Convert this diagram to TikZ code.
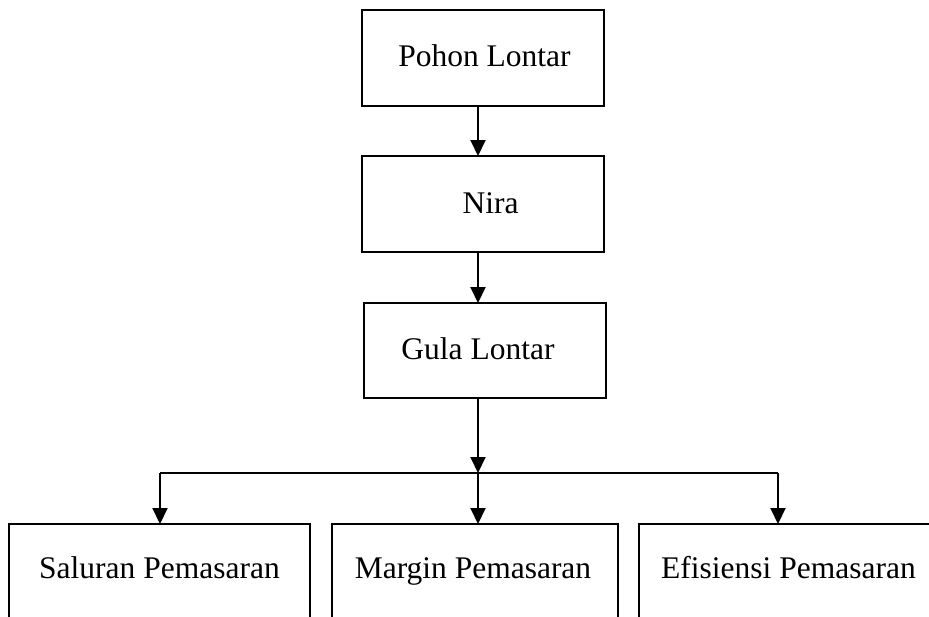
\documentclass[tikz,border=0pt]{standalone}
\usepackage{fontspec}
\setmainfont{Liberation Serif}
\usetikzlibrary{arrows.meta}
\begin{document}
\begin{tikzpicture}[x=1pt,y=-1pt,
  box/.style={draw=black,line width=1.7pt,rectangle,inner sep=0pt,outer sep=0pt,anchor=north west},
  lbl/.style={inner sep=0pt,anchor=base,font=\fontsize{31.5}{36}\selectfont},
  arr/.style={line width=2pt,-{Triangle[width=15pt,length=16pt]}},
  lin/.style={line width=1.4pt}]
\useasboundingbox (0,0) rectangle (929,616);
\clip (0,0) rectangle (929,616);
\fill[white] (0,0) rectangle (929,616);
% boxes
\node[box,minimum width=242pt,minimum height=96pt] (b1) at (362,10) {};
\node[box,minimum width=242pt,minimum height=96pt] (b2) at (362,156) {};
\node[box,minimum width=242pt,minimum height=95pt] (b3) at (364,303) {};
\node[box,minimum width=301pt,minimum height=110pt] (b4) at (9,524) {};
\node[box,minimum width=286pt,minimum height=110pt] (b5) at (332,524) {};
\node[box,minimum width=301pt,minimum height=110pt] (b6) at (639,524) {};
% labels
\node[lbl] (t1) at (484.5,66) {Pohon Lontar};
\node[lbl] (t2) at (490.5,213) {Nira};
\node[lbl] (t3) at (478,359) {Gula Lontar};
\node[lbl] (t4) at (159.5,578) {Saluran Pemasaran};
\node[lbl] (t5) at (473,578) {Margin Pemasaran};
\node[lbl] (t6) at (788.5,578) {Efisiensi Pemasaran};
% connectors
\coordinate (j) at (478,473);
\coordinate (jl) at (160,473);
\coordinate (jr) at (778,473);
\draw[arr] (b1.south -| j) -- (b2.north -| j);
\draw[arr] (b2.south -| j) -- (b3.north -| j);
\draw[arr] (b3.south -| j) -- (j);
\draw[lin] (jl) -- (jr);
\draw[arr] (j) -- (b5.north -| j);
\draw[arr] (jl) -- (b4.north -| jl);
\draw[arr] (jr) -- (b6.north -| jr);
\end{tikzpicture}
\end{document}
